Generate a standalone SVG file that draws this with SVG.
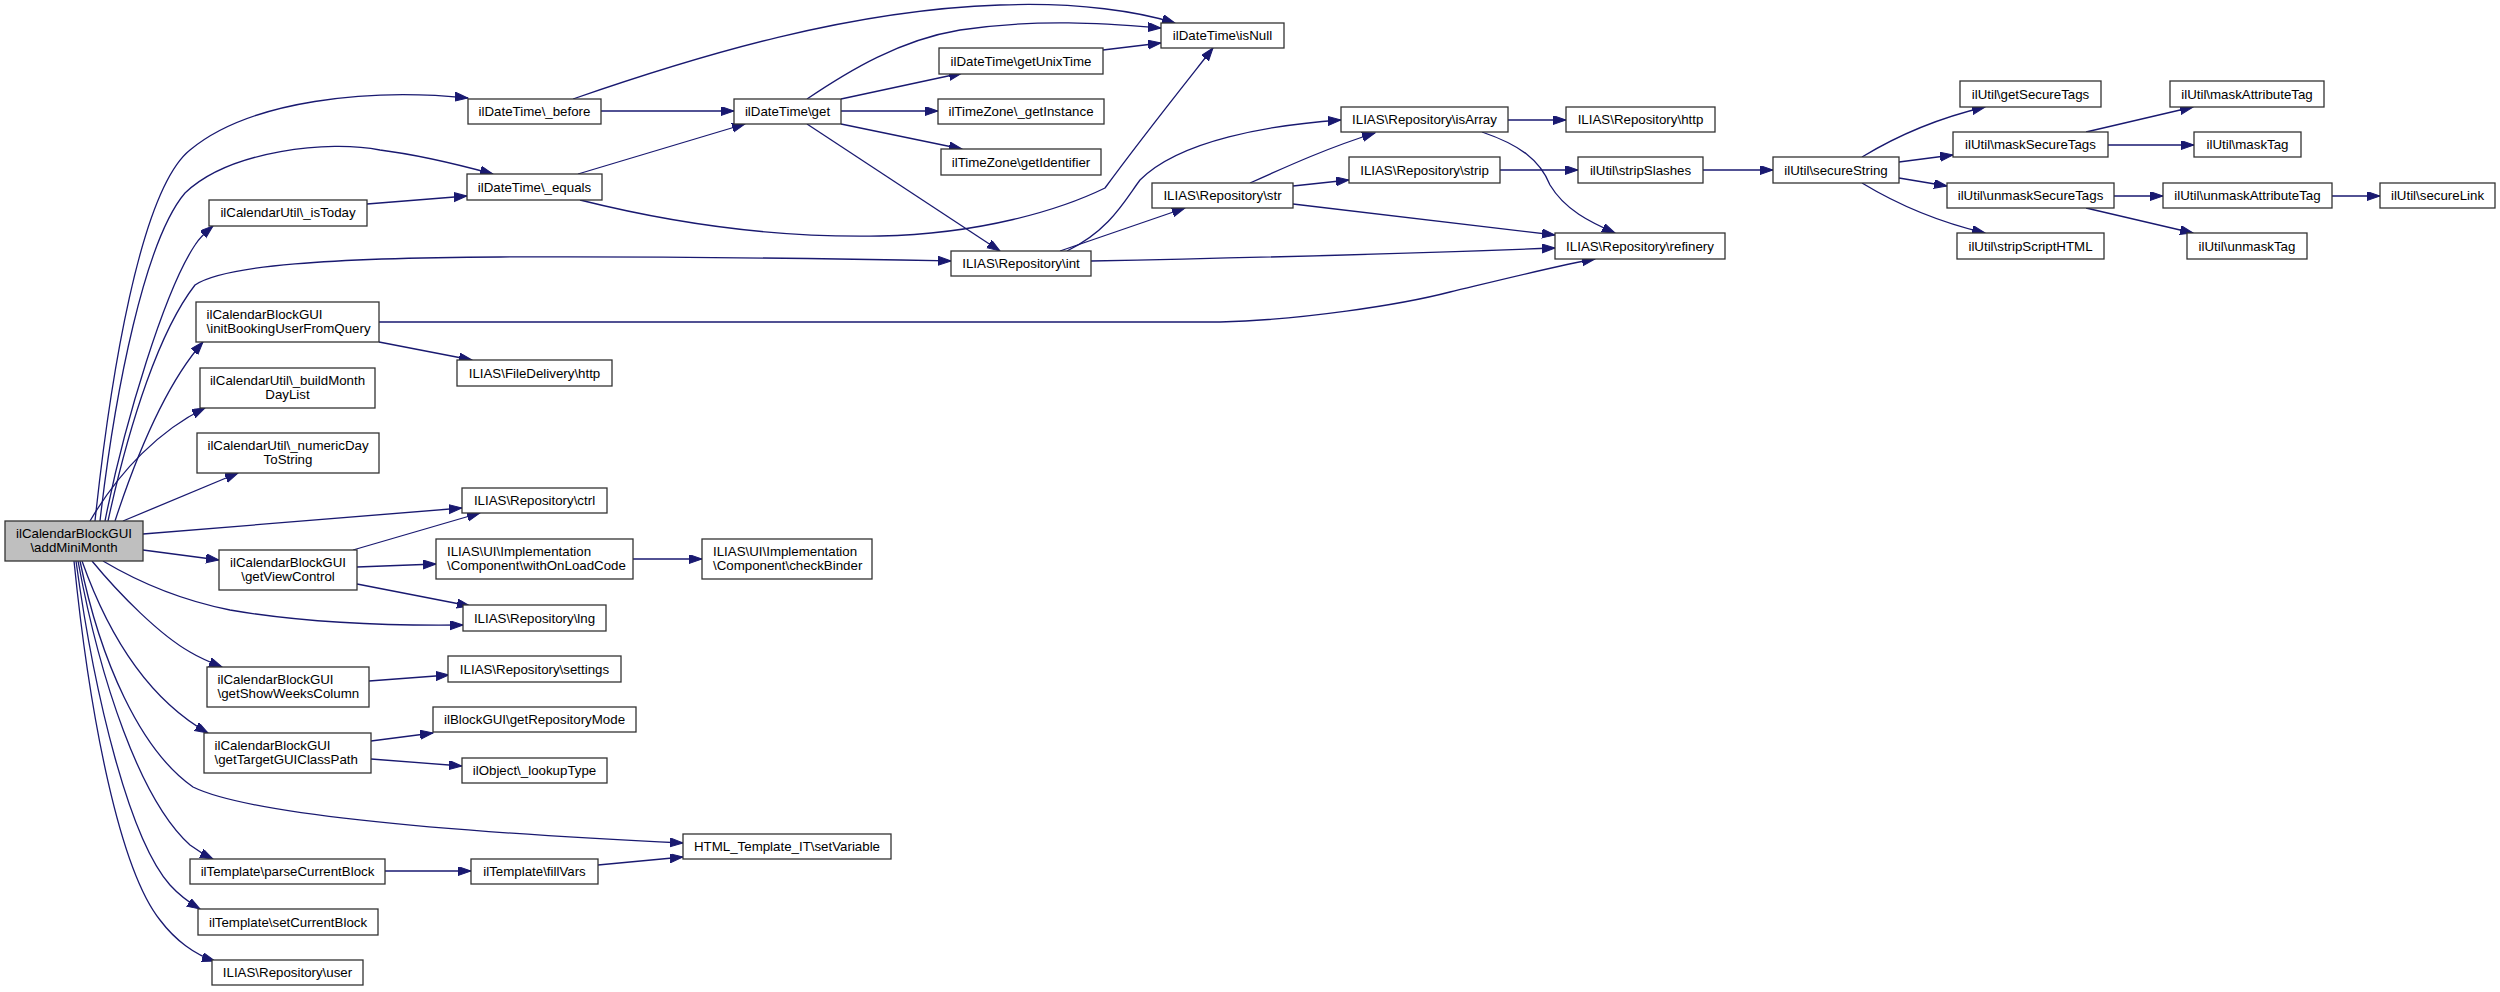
<svg xmlns="http://www.w3.org/2000/svg" width="2500" height="992" viewBox="0 0 2500 992">
<defs>
<marker id="a" markerUnits="userSpaceOnUse" markerWidth="14" markerHeight="10" refX="13" refY="4.5" orient="auto"><path d="M0,0 L13,4.5 L0,9 z" fill="#191970" stroke="#191970" stroke-width="1"/></marker>
<style>
rect{fill:#fff;stroke:#333;stroke-width:1.3}
rect.g{fill:#bfbfbf}
text{font-family:"Liberation Sans",Arial,sans-serif;font-size:13.3px;fill:#000}
text.c{text-anchor:middle}
#edges path{fill:none;stroke:#191970;stroke-width:1.3;marker-end:url(#a)}
</style>
</defs>
<rect x="0" y="0" width="2500" height="992" style="fill:#fff;stroke:none"/>
<g id="edges">
<path d="M95,521 C110,380 140,190 190,150 C250,100 370,88 468,98"/>
<path d="M100,521 C115,390 145,240 185,193 C230,150 330,140 380,150 C420,155 460,165 493,174"/>
<path d="M105,521 C125,420 165,290 195,245 C200,237 207,231 213,226"/>
<path d="M108,521 C130,420 160,330 195,285 C225,265 330,258 500,257 C700,256 850,259 951,261"/>
<path d="M115,521 C135,460 165,385 203,342"/>
<path d="M90,521 C120,470 160,430 205,408"/>
<path d="M123,521 L238,473"/>
<path d="M143,534 L462,508"/>
<path d="M143,550 L219,560"/>
<path d="M103,561 C140,583 180,600 230,610 C300,622 380,626 463,625"/>
<path d="M92,561 C120,595 160,635 190,652 C200,658 212,663 222,667"/>
<path d="M82,561 C110,640 150,700 208,733"/>
<path d="M80,561 C100,660 140,750 193,787 C250,815 450,832 683,843"/>
<path d="M78,561 C100,680 140,800 190,845 C198,851 205,855 213,859"/>
<path d="M76,561 C95,700 130,840 170,885 C180,896 190,903 200,909"/>
<path d="M74,561 C90,720 120,870 160,920 C175,940 195,955 215,961"/>
<path d="M367,204 L467,196"/>
<path d="M379,322 L1220,322 C1300,320 1400,305 1450,292 C1500,280 1560,265 1595,259"/>
<path d="M379,342 L472,360"/>
<path d="M353,550 L480,513"/>
<path d="M357,567 L436,564"/>
<path d="M357,584 L470,606"/>
<path d="M369,681 L449,675"/>
<path d="M371,741 L433,733"/>
<path d="M371,759 L462,766"/>
<path d="M385,871 L471,871"/>
<path d="M573,99 C700,55 850,10 1000,5 C1080,2 1140,12 1175,23"/>
<path d="M601,111 L734,111"/>
<path d="M578,174 L745,124"/>
<path d="M580,200 C680,225 780,238 880,236 C980,234 1060,210 1105,188 C1140,140 1180,90 1213,48"/>
<path d="M633,559 L702,559"/>
<path d="M598,865 L683,857"/>
<path d="M807,99 C850,70 900,40 960,30 C1040,18 1110,24 1161,28"/>
<path d="M841,99 L962,73"/>
<path d="M841,111 L938,111"/>
<path d="M841,124 L962,149"/>
<path d="M807,124 L1000,251"/>
<path d="M1103,50 L1161,43"/>
<path d="M1060,251 L1185,208"/>
<path d="M1067,251 C1110,230 1125,200 1140,180 C1180,140 1270,125 1341,120"/>
<path d="M1091,261 C1300,257 1450,252 1555,248"/>
<path d="M1250,183 C1290,165 1330,147 1375,133"/>
<path d="M1293,186 L1349,180"/>
<path d="M1293,204 L1555,235"/>
<path d="M1508,120 L1566,120"/>
<path d="M1482,132 C1520,145 1540,160 1550,185 C1565,210 1590,222 1615,233"/>
<path d="M1500,170 L1578,170"/>
<path d="M1703,170 L1773,170"/>
<path d="M1862,157 C1890,140 1930,120 1985,107"/>
<path d="M1899,162 L1953,155"/>
<path d="M1899,178 L1947,186"/>
<path d="M1862,183 C1890,200 1930,220 1985,233"/>
<path d="M2086,132 L2193,107"/>
<path d="M2108,145 L2194,145"/>
<path d="M2114,196 L2163,196"/>
<path d="M2086,208 L2193,233"/>
<path d="M2332,196 L2380,196"/>
</g>
<g id="n_main"><rect class="g" x="5" y="521" width="138" height="40"/><text class="c" x="74" y="537.5">ilCalendarBlockGUI</text><text class="c" x="74" y="552">\addMiniMonth</text></g>
<g id="n_isToday"><rect x="209" y="200" width="158" height="26"/><text class="c" x="288" y="217">ilCalendarUtil\_isToday</text></g>
<g id="n_initBooking"><rect x="196" y="302" width="183" height="40"/><text x="206.5" y="318.5">ilCalendarBlockGUI</text><text x="206.5" y="333">\initBookingUserFromQuery</text></g>
<g id="n_buildMonth"><rect x="200" y="368" width="175" height="40"/><text class="c" x="287.5" y="384.5">ilCalendarUtil\_buildMonth</text><text class="c" x="287.5" y="399">DayList</text></g>
<g id="n_numericDay"><rect x="197" y="433" width="182" height="40"/><text class="c" x="288" y="449.5">ilCalendarUtil\_numericDay</text><text class="c" x="288" y="464">ToString</text></g>
<g id="n_getViewControl"><rect x="219" y="550" width="138" height="40"/><text class="c" x="288" y="566.5">ilCalendarBlockGUI</text><text class="c" x="288" y="581">\getViewControl</text></g>
<g id="n_getShowWeeks"><rect x="207" y="667" width="162" height="40"/><text x="217.5" y="683.5">ilCalendarBlockGUI</text><text x="217.5" y="698">\getShowWeeksColumn</text></g>
<g id="n_getTarget"><rect x="204" y="733" width="167" height="40"/><text x="214.5" y="749.5">ilCalendarBlockGUI</text><text x="214.5" y="764">\getTargetGUIClassPath</text></g>
<g id="n_parseCurrent"><rect x="190" y="859" width="195" height="25"/><text class="c" x="287.5" y="876">ilTemplate\parseCurrentBlock</text></g>
<g id="n_setCurrent"><rect x="198" y="909" width="180" height="26"/><text class="c" x="288" y="926.5">ilTemplate\setCurrentBlock</text></g>
<g id="n_user"><rect x="212" y="960" width="151" height="25"/><text class="c" x="287.5" y="977">ILIAS\Repository\user</text></g>
<g id="n_before"><rect x="468" y="99" width="133" height="25"/><text class="c" x="534.5" y="116">ilDateTime\_before</text></g>
<g id="n_equals"><rect x="467" y="174" width="135" height="26"/><text class="c" x="534.5" y="191.5">ilDateTime\_equals</text></g>
<g id="n_fdhttp"><rect x="457" y="360" width="155" height="26"/><text class="c" x="534.5" y="377.5">ILIAS\FileDelivery\http</text></g>
<g id="n_ctrl"><rect x="462" y="488" width="145" height="25"/><text class="c" x="534.5" y="505">ILIAS\Repository\ctrl</text></g>
<g id="n_withOnLoad"><rect x="436" y="539" width="197" height="40"/><text x="447" y="555.5">ILIAS\UI\Implementation</text><text x="447" y="570">\Component\withOnLoadCode</text></g>
<g id="n_lng"><rect x="463" y="605" width="143" height="26"/><text class="c" x="534.5" y="622.5">ILIAS\Repository\lng</text></g>
<g id="n_settings"><rect x="448" y="656" width="173" height="26"/><text class="c" x="534.5" y="673.5">ILIAS\Repository\settings</text></g>
<g id="n_getRepoMode"><rect x="433" y="707" width="203" height="25"/><text class="c" x="534.5" y="724">ilBlockGUI\getRepositoryMode</text></g>
<g id="n_lookupType"><rect x="462" y="758" width="145" height="25"/><text class="c" x="534.5" y="775">ilObject\_lookupType</text></g>
<g id="n_fillVars"><rect x="471" y="859" width="127" height="25"/><text class="c" x="534.5" y="876">ilTemplate\fillVars</text></g>
<g id="n_get"><rect x="734" y="99" width="107" height="25"/><text class="c" x="787.5" y="116">ilDateTime\get</text></g>
<g id="n_checkBinder"><rect x="702" y="539" width="170" height="40"/><text x="713" y="555.5">ILIAS\UI\Implementation</text><text x="713" y="570">\Component\checkBinder</text></g>
<g id="n_setVariable"><rect x="683" y="834" width="208" height="25"/><text class="c" x="787" y="851">HTML_Template_IT\setVariable</text></g>
<g id="n_getUnixTime"><rect x="939" y="48" width="164" height="26"/><text class="c" x="1021" y="65.5">ilDateTime\getUnixTime</text></g>
<g id="n_getInstance"><rect x="938" y="99" width="166" height="25"/><text class="c" x="1021" y="116">ilTimeZone\_getInstance</text></g>
<g id="n_getIdentifier"><rect x="941" y="149" width="160" height="26"/><text class="c" x="1021" y="166.5">ilTimeZone\getIdentifier</text></g>
<g id="n_int"><rect x="951" y="251" width="140" height="25"/><text class="c" x="1021" y="268">ILIAS\Repository\int</text></g>
<g id="n_isNull"><rect x="1161" y="23" width="123" height="25"/><text class="c" x="1222.5" y="40">ilDateTime\isNull</text></g>
<g id="n_str"><rect x="1152" y="183" width="141" height="25"/><text class="c" x="1222.5" y="200">ILIAS\Repository\str</text></g>
<g id="n_isArray"><rect x="1341" y="107" width="167" height="25"/><text class="c" x="1424.5" y="124">ILIAS\Repository\isArray</text></g>
<g id="n_strip"><rect x="1349" y="157" width="151" height="26"/><text class="c" x="1424.5" y="174.5">ILIAS\Repository\strip</text></g>
<g id="n_http"><rect x="1566" y="107" width="149" height="25"/><text class="c" x="1640.5" y="124">ILIAS\Repository\http</text></g>
<g id="n_stripSlashes"><rect x="1578" y="157" width="125" height="26"/><text class="c" x="1640.5" y="174.5">ilUtil\stripSlashes</text></g>
<g id="n_refinery"><rect x="1555" y="233" width="170" height="26"/><text class="c" x="1640" y="250.5">ILIAS\Repository\refinery</text></g>
<g id="n_secureString"><rect x="1773" y="157" width="126" height="26"/><text class="c" x="1836" y="174.5">ilUtil\secureString</text></g>
<g id="n_getSecureTags"><rect x="1960" y="81" width="141" height="26"/><text class="c" x="2030.5" y="98.5">ilUtil\getSecureTags</text></g>
<g id="n_maskSecureTags"><rect x="1953" y="132" width="155" height="25"/><text class="c" x="2030.5" y="149">ilUtil\maskSecureTags</text></g>
<g id="n_unmaskSecureTags"><rect x="1947" y="183" width="167" height="25"/><text class="c" x="2030.5" y="200">ilUtil\unmaskSecureTags</text></g>
<g id="n_stripScriptHTML"><rect x="1957" y="233" width="147" height="26"/><text class="c" x="2030.5" y="250.5">ilUtil\stripScriptHTML</text></g>
<g id="n_maskAttributeTag"><rect x="2170" y="81" width="154" height="26"/><text class="c" x="2247" y="98.5">ilUtil\maskAttributeTag</text></g>
<g id="n_maskTag"><rect x="2194" y="132" width="107" height="25"/><text class="c" x="2247.5" y="149">ilUtil\maskTag</text></g>
<g id="n_unmaskAttributeTag"><rect x="2163" y="183" width="169" height="25"/><text class="c" x="2247.5" y="200">ilUtil\unmaskAttributeTag</text></g>
<g id="n_unmaskTag"><rect x="2187" y="233" width="120" height="26"/><text class="c" x="2247" y="250.5">ilUtil\unmaskTag</text></g>
<g id="n_secureLink"><rect x="2380" y="183" width="115" height="25"/><text class="c" x="2437.5" y="200">ilUtil\secureLink</text></g>
</svg>
